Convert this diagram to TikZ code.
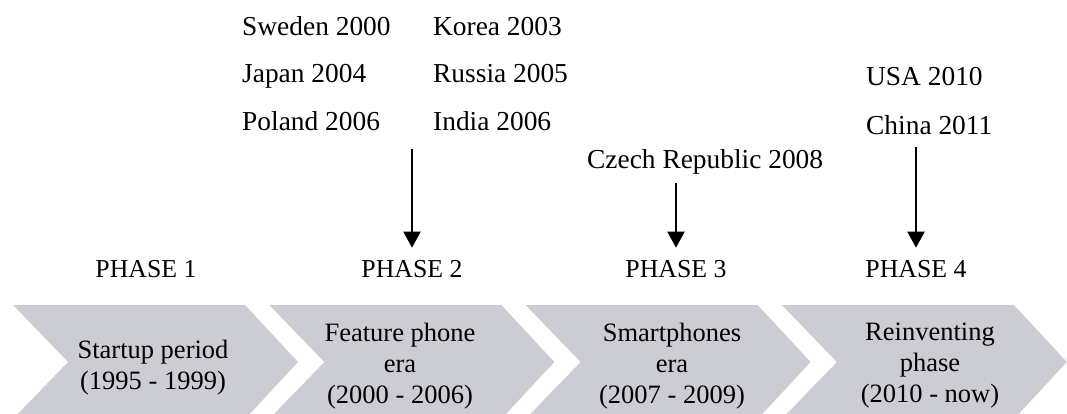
\documentclass[tikz,border=0pt]{standalone}
\usepackage{fontspec}
\setmainfont{Liberation Serif}
\usetikzlibrary{arrows.meta}
\definecolor{chevfill}{RGB}{203,204,212}
\begin{document}
\begin{tikzpicture}[x=1pt,y=-1pt,
  country/.style={anchor=base west,inner sep=0pt,font=\fontsize{27.4}{32}\selectfont},
  phaselbl/.style={anchor=base,inner sep=0pt,font=\fontsize{25.8}{30}\selectfont},
  chevtext/.style={align=center,inner sep=0pt,font=\fontsize{26.5}{31}\selectfont},
  arr/.style={line width=2pt,-{Triangle[length=16pt,width=17pt]},shorten >=12pt}]
\useasboundingbox (0,0) rectangle (1067,414);
\clip (0,0) rectangle (1067,414);

% chevron bands
\foreach \L in {13,269.3,525.6,781.9}{
  \fill[chevfill] (\L,305) -- (\L+232,305) -- (\L+285,362) -- (\L+232,419)
    -- (\L,419) -- (\L+55,362) -- cycle;
}

% chevron captions
\node[chevtext] (c1) at (153,368) {Startup period\\(1995 - 1999)};
\node[chevtext] (c2) at (400,366) {Feature phone\\era\\(2000 - 2006)};
\node[chevtext] (c3) at (672,366) {Smartphones\\era\\(2007 - 2009)};
\node[chevtext] (c4) at (930,366) {Reinventing\\phase\\(2010 - now)};

% phase labels
\node[phaselbl] (p1) at (146,277) {PHASE 1};
\node[phaselbl] (p2) at (412,277) {PHASE 2};
\node[phaselbl] (p3) at (676,277) {PHASE 3};
\node[phaselbl] (p4) at (916,277) {PHASE 4};

% countries by launch year
\node[country] (swe) at (242,36) {Sweden 2000};
\node[country] (jpn) at (242,83) {Japan 2004};
\node[country] (pol) at (242,131) {Poland 2006};
\node[country] (kor) at (433,36) {Korea 2003};
\node[country] (rus) at (433,83) {Russia 2005};
\node[country] (ind) at (433,131) {India 2006};
\node[country] (cze) at (587,168) {Czech Republic 2008};
\node[country] (usa) at (866,86) {USA 2010};
\node[country] (chn) at (866,135) {China 2011};

% arrows into the phases
\coordinate (s2) at (412,149);
\coordinate (s3) at (676,183);
\coordinate (s4) at (916,147);
\draw[arr] (s2) -- (p2.north);
\draw[arr] (s3) -- (p3.north);
\draw[arr] (s4) -- (p4.north);
\end{tikzpicture}
\end{document}
